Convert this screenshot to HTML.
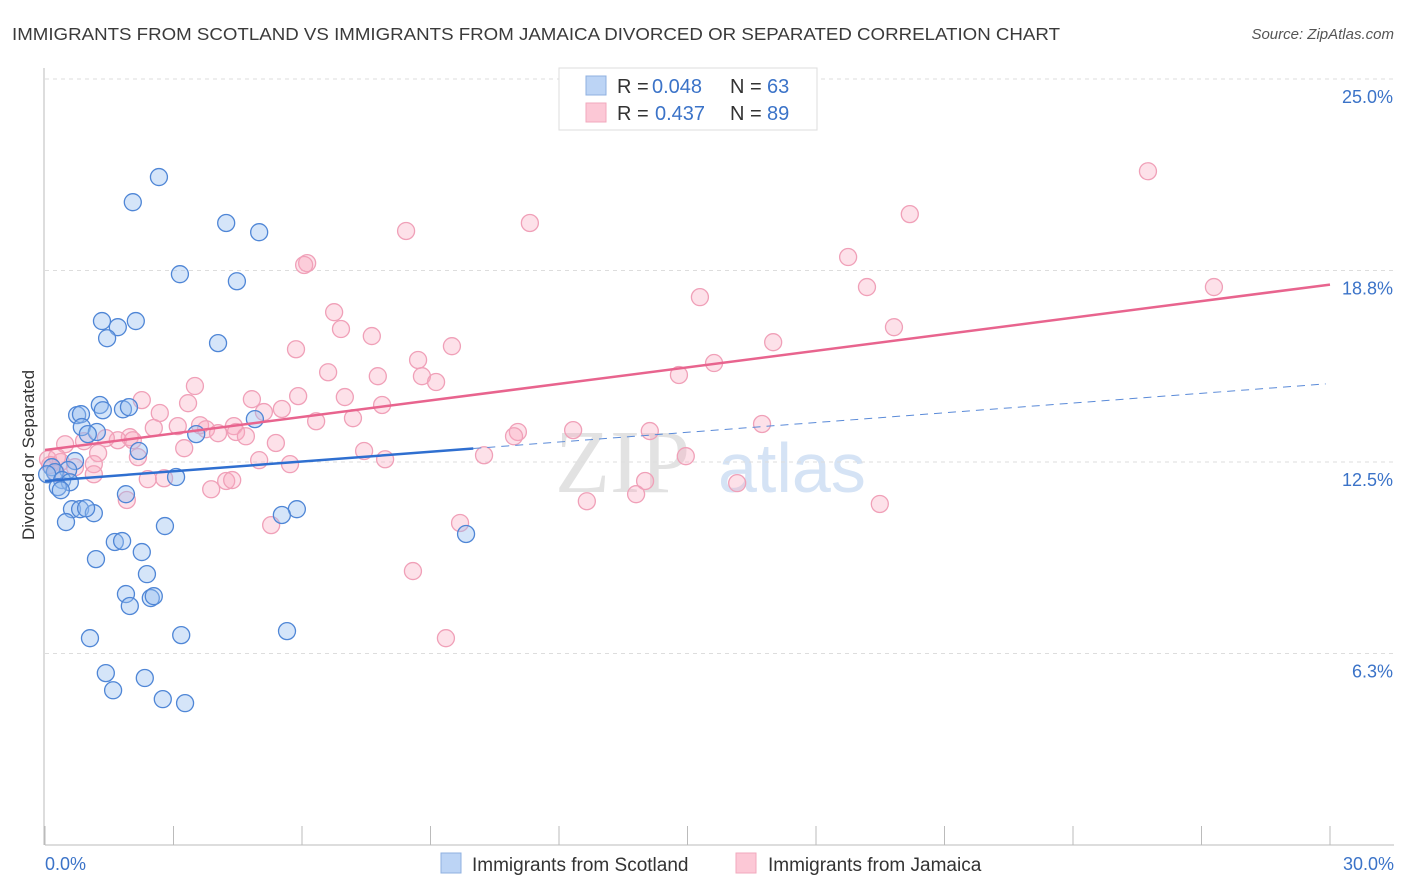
<!DOCTYPE html>
<html><head><meta charset="utf-8"><style>
body{margin:0;background:#fff;font-family:"Liberation Sans",sans-serif;}
#c{position:relative;width:1406px;height:892px;overflow:hidden;}
</style></head><body><div id="c">
<svg id="s" width="1406" height="892" xmlns="http://www.w3.org/2000/svg">
<text x="12" y="40" font-size="17.5" fill="#3a3a3a" textLength="1048" lengthAdjust="spacingAndGlyphs">IMMIGRANTS FROM SCOTLAND VS IMMIGRANTS FROM JAMAICA DIVORCED OR SEPARATED CORRELATION CHART</text>
<text x="1394" y="39" font-size="15" fill="#555" font-style="italic" text-anchor="end">Source: ZipAtlas.com</text>
<text x="34" y="455" font-size="17" fill="#333" text-anchor="middle" transform="rotate(-90 34 455)">Divorced or Separated</text>
<text x="555" y="492" font-size="90" fill="#e2e2e2" font-family="Liberation Serif,serif">ZIP</text>
<text x="718" y="492" font-size="70" fill="#d5e3f5">atlas</text>
<g id="grid"></g><g id="axes"></g><g id="pink"></g><g id="blue"></g><g id="lines"></g>
<g>
<rect x="559" y="68" width="258" height="62" fill="#fff" stroke="#ddd"/>
<rect x="586" y="76" width="20" height="19" fill="#bcd4f5" stroke="#8fb0e0"/>
<rect x="586" y="103" width="20" height="19" fill="#fcc8d6" stroke="#f2a9bd"/>
<text x="617" y="93" font-size="20" fill="#333">R =</text>
<text x="652" y="93" font-size="20" fill="#3b73c8">0.048</text>
<text x="730" y="93" font-size="20" fill="#333">N =</text>
<text x="767" y="93" font-size="20" fill="#3b73c8">63</text>
<text x="617" y="120" font-size="20" fill="#333">R =</text>
<text x="655" y="120" font-size="20" fill="#3b73c8">0.437</text>
<text x="730" y="120" font-size="20" fill="#333">N =</text>
<text x="767" y="120" font-size="20" fill="#3b73c8">89</text>
</g>
<g>
<rect x="441" y="853" width="20" height="20" fill="#bcd4f5" stroke="#8fb0e0"/>
<text x="472" y="871" font-size="19" fill="#333">Immigrants from Scotland</text>
<rect x="736" y="853" width="20" height="20" fill="#fcc8d6" stroke="#f2a9bd"/>
<text x="768" y="871" font-size="19" fill="#333">Immigrants from Jamaica</text>
</g>
</svg></div>
<script>
const yTicks=[25,18.75,12.5,6.25];
const yTickLabels=["25.0%","18.8%","12.5%","6.3%"];
const blueX=[2.66,2.05,4.23,5.00,3.15,4.48,1.33,1.70,2.12,1.45,4.04,1.28,0.75,0.84,1.35,1.82,1.96,4.90,0.86,1.21,1.00,3.53,2.19,0.70,0.16,0.54,0.23,0.05,0.40,0.58,0.30,3.06,1.89,0.37,0.63,0.82,1.14,0.96,2.80,0.49,5.88,5.53,9.83,1.63,1.80,2.26,1.19,2.38,1.89,1.98,2.47,2.54,1.05,3.18,5.65,1.42,1.59,2.33,2.75,3.27];
const blueY=[21.80,20.98,20.30,20.00,18.63,18.40,17.10,16.90,17.10,16.54,16.38,14.36,14.03,14.06,14.19,14.22,14.29,13.90,13.64,13.48,13.41,13.41,12.86,12.53,12.33,12.24,12.17,12.10,11.91,11.84,11.68,12.01,11.45,11.58,10.96,10.96,10.83,10.99,10.41,10.54,10.96,10.77,10.15,9.89,9.92,9.56,9.33,8.84,8.19,7.80,8.06,8.12,6.75,6.85,6.98,5.61,5.05,5.45,4.76,4.63];
const pinkX=[25.75,20.19,11.32,8.43,18.75,6.12,6.05,19.19,27.29,15.29,6.75,6.91,19.82,7.63,17.00,5.86,9.50,8.71,15.62,6.61,8.80,7.77,9.13,14.80,3.50,7.00,5.91,4.83,2.26,3.34,7.87,5.11,2.68,5.53,6.33,7.19,16.74,12.33,14.12,11.04,10.95,2.54,3.10,3.62,3.76,4.41,4.46,4.69,4.04,1.98,1.70,1.42,0.91,5.39,0.47,7.45,1.24,3.25,2.17,0.07,0.37,1.14,5.00,5.72,10.25,7.94,14.96,0.26,1.14,2.40,2.78,4.23,4.37,3.88,14.01,16.16,12.65,13.80,19.49,1.91,5.28,9.69,8.59,9.36,0.28,0.70,2.05,0.12];
const pinkY=[21.99,20.59,20.30,20.04,19.19,18.99,18.93,18.21,18.21,17.88,17.39,16.84,16.90,16.61,16.41,16.18,16.28,15.83,15.73,15.43,15.30,15.30,15.11,15.34,14.98,14.62,14.65,14.55,14.52,14.42,14.36,14.13,14.10,14.23,13.83,13.93,13.74,13.54,13.51,13.48,13.34,13.61,13.67,13.70,13.57,13.67,13.48,13.34,13.44,13.31,13.21,13.28,13.18,13.12,13.08,12.86,12.79,12.95,12.66,12.59,12.50,12.43,12.56,12.43,12.72,12.59,12.69,12.14,12.10,11.94,11.97,11.88,11.91,11.61,11.88,11.81,11.22,11.45,11.13,11.26,10.44,10.51,8.94,6.75,12.66,12.33,13.21,12.40];
const blueFit=[11.88,0.106]; // intercept, slope
const pinkFit=[12.89,0.18];
const X=v=>45+v/30*1285, Y=v=>79+(25-v)/6.25*191.5;
const NS="http://www.w3.org/2000/svg";
function mk(tag,parent,attrs){const e=document.createElementNS(NS,tag);for(const k in attrs)e.setAttribute(k,attrs[k]);document.getElementById(parent).appendChild(e);return e;}
yTicks.forEach((t,i)=>{
 const g=mk('line','grid',{x1:45,x2:1394,y1:Y(t),y2:Y(t),stroke:'#ddd','stroke-dasharray':'4,4'});
 
 
 const l=mk('text','axes',{x:1393,y:Y(t)+24,'font-size':18,fill:'#3b73c8','text-anchor':'end'});l.textContent=yTickLabels[i];
 
 
});
const ax=mk('line','axes',{x1:45,x2:1394,y1:845,y2:845,stroke:'#bbb'});


const ay=mk('line','axes',{x1:44,x2:44,y1:68,y2:845,stroke:'#bbb'});


for(let v=0;v<=30;v+=3){const t=mk('line','axes',{x1:X(v),x2:X(v),y1:826,y2:845,stroke:'#bbb'});
 
 }
const x0=mk('text','axes',{x:45,y:870,'font-size':18,fill:'#3b73c8'});x0.textContent='0.0%';


const x1=mk('text','axes',{x:1394,y:870,'font-size':18,fill:'#3b73c8','text-anchor':'end'});x1.textContent='30.0%';


pinkX.forEach((x,i)=>{const c=mk('circle','pink',{cx:X(x),cy:Y(pinkY[i]),r:8.5,fill:'rgba(248,170,192,0.35)',stroke:'#f0a0b8','stroke-width':1.3});
 
 });
blueX.forEach((x,i)=>{const c=mk('circle','blue',{cx:X(x),cy:Y(blueY[i]),r:8.5,fill:'rgba(150,190,240,0.4)',stroke:'#4f86d6','stroke-width':1.3});
 
 });
const bl=mk('line','lines',{x1:X(0),y1:Y(blueFit[0]),x2:X(10),y2:Y(blueFit[0]+blueFit[1]*10),stroke:'#2f6fd0','stroke-width':2.5});


const bd=mk('line','lines',{x1:X(10),y1:Y(blueFit[0]+blueFit[1]*10),x2:X(29.9),y2:Y(blueFit[0]+blueFit[1]*29.9),stroke:'#5a8ad8','stroke-width':1,'stroke-dasharray':'8,6'});


const pl=mk('line','lines',{x1:X(0),y1:Y(pinkFit[0]),x2:X(30),y2:Y(pinkFit[0]+pinkFit[1]*30),stroke:'#e8648e','stroke-width':2.5});


</script></body></html>
